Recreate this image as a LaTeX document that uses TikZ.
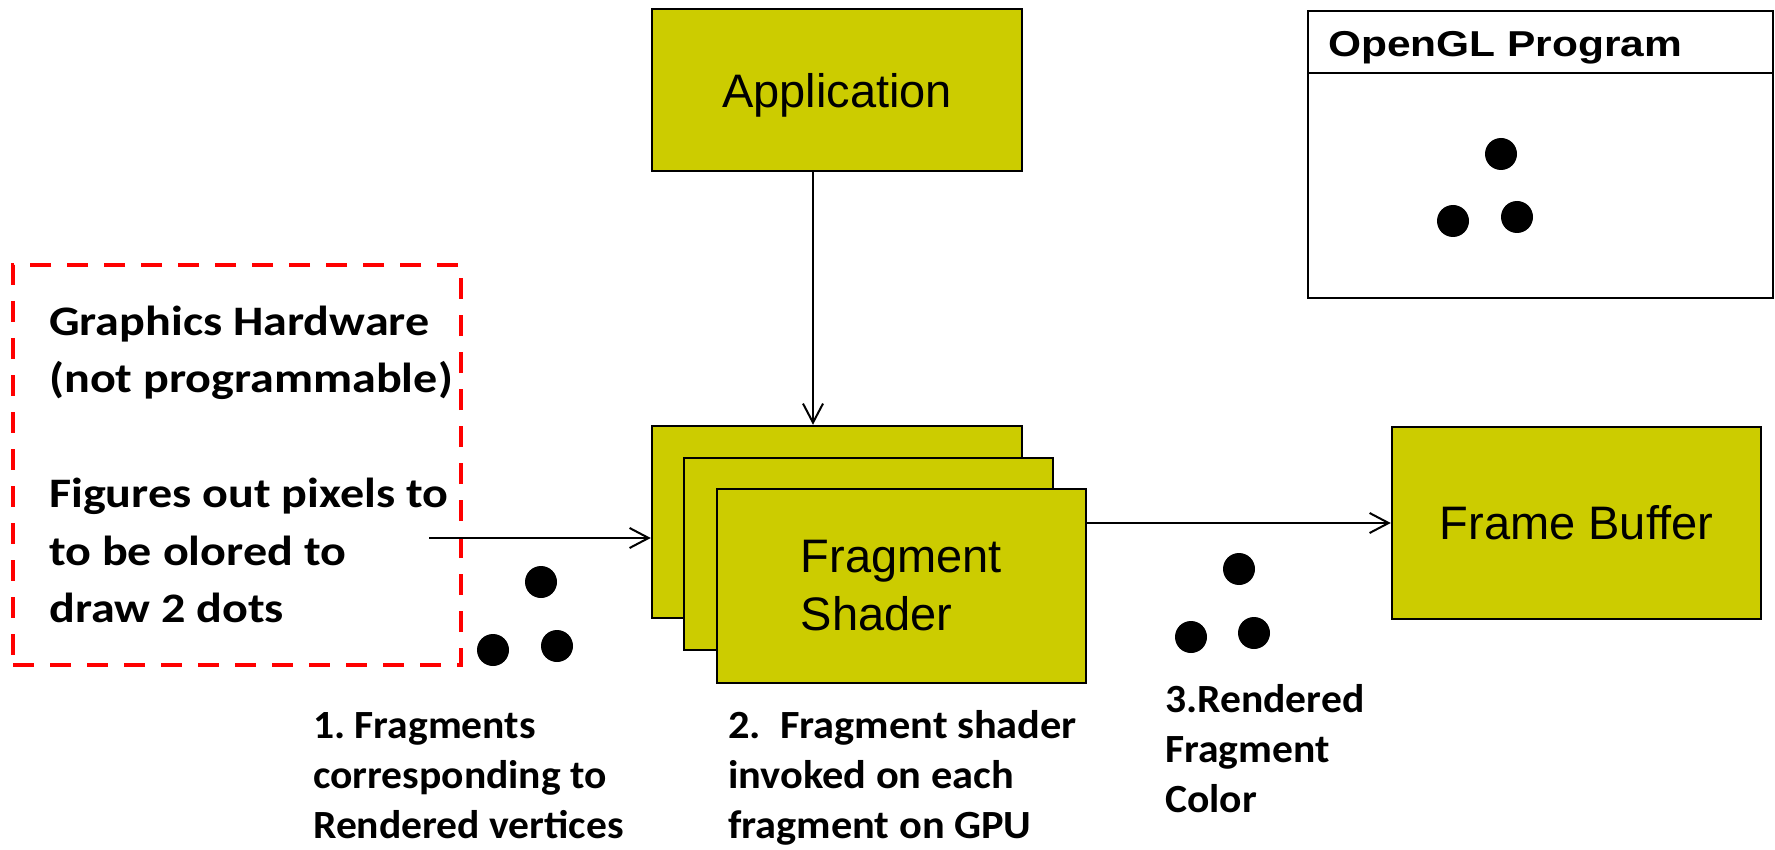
\documentclass[tikz,border=0pt]{standalone}
\usepackage{graphicx}
\usepackage{fontspec}
\setmainfont{Carlito}
\newfontfamily\arialf{Liberation Sans}
\usetikzlibrary{arrows.meta}
\definecolor{boxfill}{RGB}{204,204,0}
\frenchspacing
\begin{document}
\begin{tikzpicture}[x=1pt,y=-1pt,
  box/.style={draw=black, line width=2.5pt, fill=boxfill, inner sep=0pt,
    font=\arialf\fontsize{47}{58}\selectfont},
  arr/.style={line width=2pt, -{Straight Barb[length=19pt,width=20pt,line width=2pt]}},
  dot/.style={circle, fill=black, inner sep=0pt, minimum size=32pt},
  lbl/.style={anchor=base west, inner sep=0pt, font=\bfseries\fontsize{40}{50}\selectfont},
  hwlbl/.style={anchor=base west, inner sep=0pt, font=\bfseries\fontsize{42}{57.5}\selectfont}]
\useasboundingbox (0,0) rectangle (1775,850);

% Application
\node[box, minimum width=370pt, minimum height=162pt, text depth=0pt] (app) at (837,90) {Application};

% Fragment shader stack
\node[box, minimum width=370pt, minimum height=192pt] (frag1) at (837,522) {};
\node[box, minimum width=369pt, minimum height=192pt] (frag2) at (868.5,554) {};
\node[box, minimum width=369pt, minimum height=194pt, align=left] (frag3) at (901.5,586) {Fragment\\Shader};

% Frame buffer
\node[box, minimum width=369pt, minimum height=192pt] (fb) at (1576.5,523) {Frame Buffer};

% OpenGL program box
\node[draw=black, line width=2pt, minimum width=465pt, minimum height=287pt, inner sep=0pt] (ogl) at (1540.5,154.5) {};
\coordinate (divy) at (0,73);
\draw[line width=2pt] (ogl.west |- divy) -- (ogl.east |- divy);
\node[anchor=base west, inner sep=0pt, font=\arialf\bfseries\fontsize{36}{40}\selectfont] (ogltitle) at (1328,57) {\scalebox{1.18}[1]{OpenGL Program}};
\node[dot] (od1) at (1501,154) {};
\node[dot] (od2) at (1453,221) {};
\node[dot] (od3) at (1517,217) {};

% Graphics hardware dashed box
\node[draw=red, line width=4.5pt, dash pattern=on 21pt off 16pt, minimum width=448pt, minimum height=400pt, inner sep=0pt] (hw) at (237,465) {};
\node[hwlbl] (hwtext) at (49,335) {\scalebox{1.145}[1]{\vtop{\hbox{Graphics Hardware}\hbox{(not programmable)}\hbox{}\hbox{Figures out pixels to}\hbox{to be olored to}\hbox{draw 2 dots}}}};

% dots after hardware
\node[dot] (fd1) at (541,582) {};
\node[dot] (fd2) at (493,650) {};
\node[dot] (fd3) at (557,646) {};

% dots after shader
\node[dot] (cd1) at (1239,569) {};
\node[dot] (cd2) at (1191,637) {};
\node[dot] (cd3) at (1254,633) {};

% connectors
\coordinate (ax) at (813,0);
\draw[arr] (app.south -| ax) -- (frag1.north -| ax);
\coordinate (hwout) at (429,538);
\draw[arr] (hwout) -- (frag1.west |- hwout);
\draw[arr] (frag3.east |- fb.west) -- (fb.west);

% bottom labels
\node[lbl] (l1) at (313,738) {\scalebox{1.04}[1]{\vtop{\hbox{1. Fragments}\hbox{corresponding to}\hbox{Rendered vertices}}}};
\node[lbl] (l2) at (728,738) {\scalebox{1.06}[1]{\vtop{\hbox{2.~~Fragment shader}\hbox{invoked on each}\hbox{fragment on GPU}}}};
\node[lbl] (l3) at (1165,712) {\scalebox{1.04}[1]{\vtop{\hbox{3.Rendered}\hbox{Fragment}\hbox{Color}}}};
\end{tikzpicture}
\end{document}
